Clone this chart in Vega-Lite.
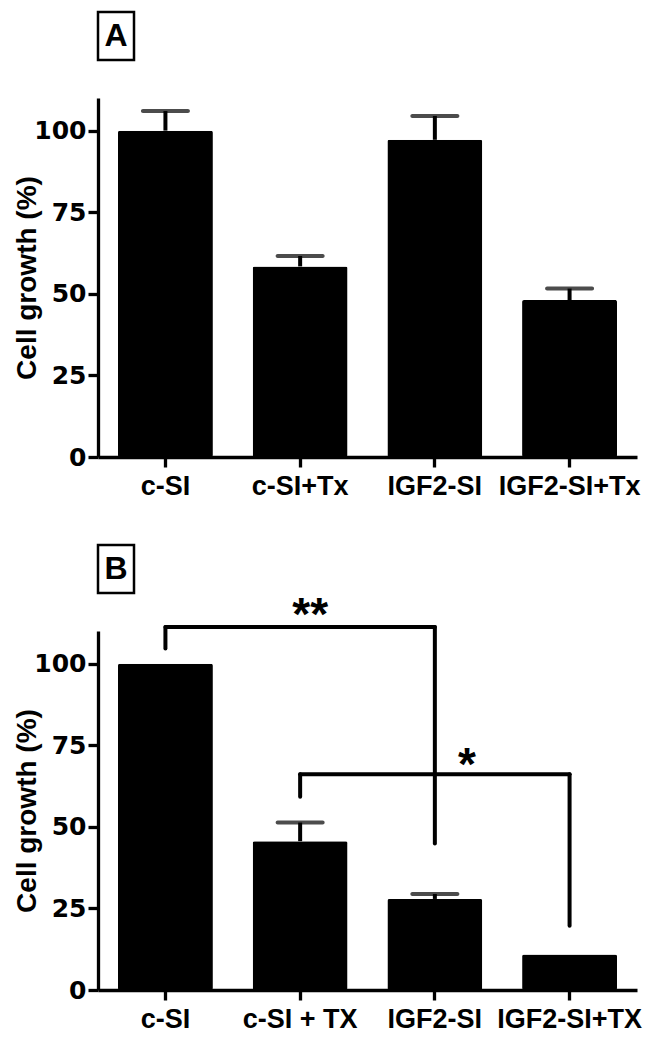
{
  "$schema": "https://vega.github.io/schema/vega-lite/v6.json",
  "padding": {"left": 13, "top": 10, "right": 2, "bottom": 5},
  "background": "white",
  "config": {
    "font": "Liberation Sans",
    "view": {"stroke": null},
    "axis": {
      "grid": false,
      "domainColor": "black",
      "domainWidth": 3.3,
      "tickColor": "black",
      "tickWidth": 3.3,
      "tickSize": 10,
      "labelFontWeight": "bold",
      "labelColor": "black",
      "titleFont": "Liberation Sans",
      "titleFontSize": 28,
      "titleFontWeight": "bold",
      "titleColor": "black"
    },
    "axisX": {"labelAngle": 0, "labelPadding": 6, "labelFont": "Liberation Sans", "labelFontSize": 27},
    "axisY": {"labelPadding": 2, "titlePadding": -8, "labelFont": "DejaVu Sans", "labelFontSize": 25}
  },
  "datasets": {
    "panelA": [
      {"group": "c-SI", "mean": 100, "upper": 106},
      {"group": "c-SI+Tx", "mean": 58.4, "upper": 61.6},
      {"group": "IGF2-SI", "mean": 97.2, "upper": 104.5},
      {"group": "IGF2-SI+Tx", "mean": 48.1, "upper": 51.6}
    ],
    "panelB": [
      {"group": "c-SI", "mean": 100, "upper": null},
      {"group": "c-SI + TX", "mean": 45.6, "upper": 51.3},
      {"group": "IGF2-SI", "mean": 27.9, "upper": 29.4},
      {"group": "IGF2-SI+TX", "mean": 10.9, "upper": null}
    ],
    "legsB": [
      {"group": "c-SI", "low": 104.6, "high": 111.2},
      {"group": "IGF2-SI", "low": 44.9, "high": 111.2},
      {"group": "c-SI + TX", "low": 59.2, "high": 66.1},
      {"group": "IGF2-SI+TX", "low": 19.7, "high": 66.1}
    ],
    "barsB": [
      {"group": "c-SI", "group2": "IGF2-SI", "level": 111.2},
      {"group": "c-SI + TX", "group2": "IGF2-SI+TX", "level": 66.1}
    ],
    "starsB": [
      {"group": "c-SI + TX", "label": "**", "pos": 110.2},
      {"group": "IGF2-SI", "label": "*", "pos": 64.4}
    ]
  },
  "bounds": "flush",
  "spacing": 38,
  "vconcat": [
    {
      "width": 36,
      "height": 48,
      "view": {"stroke": "black", "strokeWidth": 2.5},
      "data": {"values": [{"panel": "A"}]},
      "mark": {"type": "text", "fontSize": 32, "fontWeight": "bold", "baseline": "middle", "align": "center", "color": "black"},
      "encoding": {"text": {"field": "panel"}}
    },
    {
      "width": 539,
      "height": 359,
      "data": {"name": "panelA"},
      "encoding": {
        "x": {
          "field": "group", "type": "nominal", "title": null,
          "scale": {"domain": ["c-SI", "c-SI+Tx", "IGF2-SI", "IGF2-SI+Tx"], "paddingInner": 0.295, "paddingOuter": 0.148}
        }
      },
      "layer": [
        {
          "mark": {"type": "bar", "color": "black", "cornerRadius": 2},
          "encoding": {
            "y": {"field": "mean", "type": "quantitative", "title": "Cell growth (%)",
                  "scale": {"domain": [0, 110]}, "axis": {"values": [0, 25, 50, 75, 100]}}
          }
        },
        {
          "mark": {"type": "rule", "color": "black", "strokeWidth": 4},
          "encoding": {
            "y": {"field": "mean", "type": "quantitative", "title": "Cell growth (%)"},
            "y2": {"field": "upper"}
          }
        },
        {
          "mark": {"type": "tick", "color": "black", "thickness": 4, "size": 49, "cornerRadius": 2},
          "encoding": {
            "y": {"field": "upper", "type": "quantitative", "title": "Cell growth (%)"}
          }
        }
      ]
    },
    {
      "width": 36,
      "height": 12,
      "data": {"values": [{"panel": ""}]},
      "mark": {"type": "text"},
      "encoding": {"text": {"field": "panel"}}
    },
    {
      "width": 36,
      "height": 48,
      "view": {"stroke": "black", "strokeWidth": 2.5},
      "data": {"values": [{"panel": "B"}]},
      "mark": {"type": "text", "fontSize": 32, "fontWeight": "bold", "baseline": "middle", "align": "center", "color": "black"},
      "encoding": {"text": {"field": "panel"}}
    },
    {
      "width": 539,
      "height": 359,
      "layer": [
        {
          "data": {"name": "panelB"},
          "mark": {"type": "bar", "color": "black", "cornerRadius": 2},
          "encoding": {
            "x": {
              "field": "group", "type": "nominal", "title": null,
              "scale": {"domain": ["c-SI", "c-SI + TX", "IGF2-SI", "IGF2-SI+TX"], "paddingInner": 0.295, "paddingOuter": 0.148}
            },
            "y": {"field": "mean", "type": "quantitative", "title": "Cell growth (%)",
                  "scale": {"domain": [0, 110]}, "axis": {"values": [0, 25, 50, 75, 100]}}
          }
        },
        {
          "data": {"name": "panelB"},
          "transform": [{"filter": "datum.upper != null"}],
          "mark": {"type": "rule", "color": "black", "strokeWidth": 4},
          "encoding": {
            "x": {"field": "group", "type": "nominal", "title": null},
            "y": {"field": "mean", "type": "quantitative", "title": "Cell growth (%)"},
            "y2": {"field": "upper"}
          }
        },
        {
          "data": {"name": "panelB"},
          "transform": [{"filter": "datum.upper != null"}],
          "mark": {"type": "tick", "color": "black", "thickness": 4, "size": 49, "cornerRadius": 2},
          "encoding": {
            "x": {"field": "group", "type": "nominal", "title": null},
            "y": {"field": "upper", "type": "quantitative", "title": "Cell growth (%)"}
          }
        },
        {
          "data": {"name": "legsB"},
          "mark": {"type": "rule", "color": "black", "strokeWidth": 4, "strokeCap": "round"},
          "encoding": {
            "x": {"field": "group", "type": "nominal", "title": null},
            "y": {"field": "low", "type": "quantitative", "title": "Cell growth (%)"},
            "y2": {"field": "high"}
          }
        },
        {
          "data": {"name": "barsB"},
          "mark": {"type": "rule", "color": "black", "strokeWidth": 4, "strokeCap": "round"},
          "encoding": {
            "x": {"field": "group", "type": "nominal", "title": null},
            "x2": {"field": "group2"},
            "y": {"field": "level", "type": "quantitative", "title": "Cell growth (%)"}
          }
        },
        {
          "data": {"name": "starsB"},
          "transform": [{"filter": "datum.label == '**'"}],
          "mark": {"type": "text", "fontSize": 46, "fontWeight": "bold", "color": "black", "baseline": "alphabetic", "dx": 10},
          "encoding": {
            "x": {"field": "group", "type": "nominal", "title": null},
            "y": {"field": "pos", "type": "quantitative", "title": "Cell growth (%)"},
            "text": {"field": "label"}
          }
        },
        {
          "data": {"name": "starsB"},
          "transform": [{"filter": "datum.label == '*'"}],
          "mark": {"type": "text", "fontSize": 46, "fontWeight": "bold", "color": "black", "baseline": "alphabetic", "dx": 32},
          "encoding": {
            "x": {"field": "group", "type": "nominal", "title": null},
            "y": {"field": "pos", "type": "quantitative", "title": "Cell growth (%)"},
            "text": {"field": "label"}
          }
        }
      ]
    }
  ]
}
